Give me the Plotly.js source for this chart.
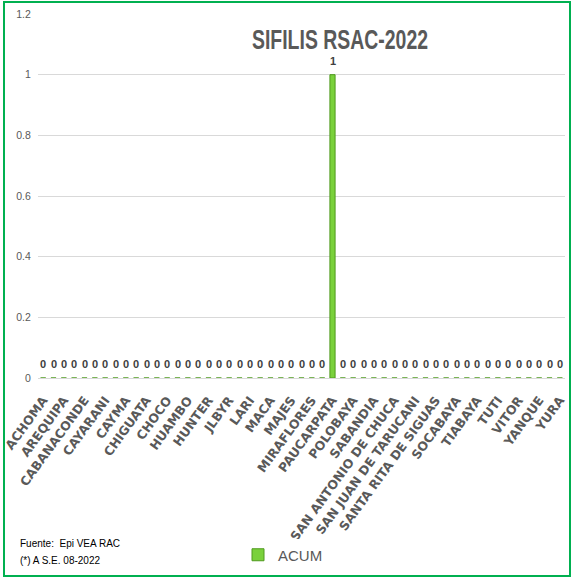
<!DOCTYPE html>
<html>
<head>
<meta charset="utf-8">
<script src="https://cdn.plot.ly/plotly-3.0.1.min.js"></script>
<style>
  html, body { margin: 0; padding: 0; background: #ffffff; }
  #wrap { position: relative; width: 572px; height: 578px; overflow: hidden; }
  #chart { position: absolute; left: 0; top: 0; width: 572px; height: 578px; }
  #frame { position: absolute; left: 3px; top: 1px; width: 564px; height: 572px;
           border: 2px solid #00b050; pointer-events: none; }
</style>
</head>
<body>
<div id="wrap">
  <div id="chart"></div>
  <div id="frame"></div>
</div>
<script>
// Districts (every other one is labelled in the reference)
const districts = [
  "ACHOMA", "ALTO SELVA ALEGRE", "AREQUIPA", "CHARACATO", "CABANACONDE",
  "CALLALLI", "CAYARANI", "CAYLLOMA", "CAYMA", "CERRO COLORADO",
  "CHIGUATA", "CHIVAY", "CHOCO", "COPORAQUE", "HUAMBO",
  "HUANCA", "HUNTER", "ICHUPAMPA", "JLBYR", "LA JOYA",
  "LARI", "LLUTA", "MACA", "MADRIGAL", "MAJES",
  "MARIANO MELGAR", "MIRAFLORES", "MOLLEBAYA", "PAUCARPATA", "POCSI",
  "POLOBAYA", "QUEQUEÑA", "SABANDIA", "SACHACA", "SAN ANTONIO DE CHUCA",
  "SAN JUAN DE SIGUAS", "SAN JUAN DE TARUCANI", "SANTA ISABEL DE SIGUAS", "SANTA RITA DE SIGUAS", "SIBAYO",
  "SOCABAYA", "TAPAY", "TIABAYA", "TISCO", "TUTI",
  "UCHUMAYO", "VITOR", "YANAHUARA", "YANQUE", "YARABAMBA",
  "YURA"
];

// Accumulated cases (ACUM)
const acum = [
  0, 0, 0, 0, 0,
  0, 0, 0, 0, 0,
  0, 0, 0, 0, 0,
  0, 0, 0, 0, 0,
  0, 0, 0, 0, 0,
  0, 0, 0, 1, 0,
  0, 0, 0, 0, 0,
  0, 0, 0, 0, 0,
  0, 0, 0, 0, 0,
  0, 0, 0, 0, 0,
  0
];

// Labels shown on the axis (every second district)
const shownLabels = districts.filter((d, i) => i % 2 === 0);

const seriesName = "ACUM";
const chartTitle = "SIFILIS RSAC-2022";
const sourceLines = ["Fuente:  Epi VEA RAC", "(*) A S.E. 08-2022"];

const sans = "'Liberation Sans', Arial, sans-serif";

// plot area in pixels (for placing the footnote in paper units)
const W = 572, H = 578, ML = 38, MR = 7, MT = 14, MB = 200;
const PW = W - ML - MR, PH = H - MT - MB;

const trace = {
  type: "bar",
  name: seriesName,
  x: districts,
  y: acum,
  marker: { color: "#7ad13c", line: { color: "#4f9a1e", width: 1 } },
  hoverinfo: "x+y",
  showlegend: true
};

const valueLabels = districts.map((d, i) => ({
  x: d, y: acum[i], xref: "x", yref: "y",
  text: "<b>" + acum[i] + "</b>",
  showarrow: false, yanchor: "bottom", yshift: 6,
  font: { family: sans, size: 11, color: "#404040" }
}));

const sourceNotes = sourceLines.map((t, i) => ({
  x: (18 - ML) / PW, y: -((543 + i * 17) - (MT + PH)) / PH,
  xref: "paper", yref: "paper",
  xanchor: "left", yanchor: "middle", showarrow: false, text: t,
  font: { family: sans, size: 10, color: "#000000" }
}));

const layout = {
  width: W, height: H,
  margin: { l: ML, r: MR, t: MT, b: MB },
  paper_bgcolor: "#ffffff", plot_bgcolor: "#ffffff",
  title: {
    text: "<b>" + chartTitle + "</b>",
    xref: "container", yref: "container",
    x: 340 / W, xanchor: "center",
    y: 1 - 40 / H, yanchor: "middle",
    font: { family: sans, size: 27, color: "#595959" }
  },
  bargap: 0.5,
  xaxis: {
    type: "category",
    tickmode: "array",
    tickvals: shownLabels,
    ticktext: shownLabels.map(s => "<b>" + s + "</b>"),
    tickangle: -54,
    ticks: "outside", ticklen: 9, tickcolor: "rgba(0,0,0,0)",
    tickfont: { family: "'DejaVu Sans', Verdana, sans-serif", size: 12.5, color: "#595959" },
    showgrid: false, zeroline: false,
    showline: false,
    fixedrange: true
  },
  yaxis: {
    range: [0, 1.2],
    tickvals: [0, 0.2, 0.4, 0.6, 0.8, 1, 1.2],
    ticks: "outside", ticklen: 4, tickcolor: "rgba(0,0,0,0)",
    tickfont: { family: sans, size: 10.5, color: "#595959" },
    showgrid: true, gridcolor: "#d9d9d9", gridwidth: 1,
    zeroline: true, zerolinecolor: "#d9d9d9", zerolinewidth: 1,
    showline: false,
    fixedrange: true
  },
  legend: {
    orientation: "h",
    xref: "container", yref: "container",
    x: 283 / W, xanchor: "center",
    y: 1 - 555 / H, yanchor: "middle",
    font: { family: sans, size: 15, color: "#595959" },
    itemwidth: 30
  },
  annotations: valueLabels.concat(sourceNotes),
  showlegend: true
};

Plotly.newPlot("chart", [trace], layout, { displayModeBar: false, staticPlot: true }).then(gd => {
  // narrow the title glyphs horizontally, like the condensed reference font
  const t = gd.querySelector(".gtitle");
  if (t) {
    const cx = parseFloat(t.getAttribute("x")) || 340;
    t.setAttribute("transform", "translate(" + cx + ",0) scale(0.72,1) translate(" + (-cx) + ",0)");
  }
});
</script>
</body>
</html>
